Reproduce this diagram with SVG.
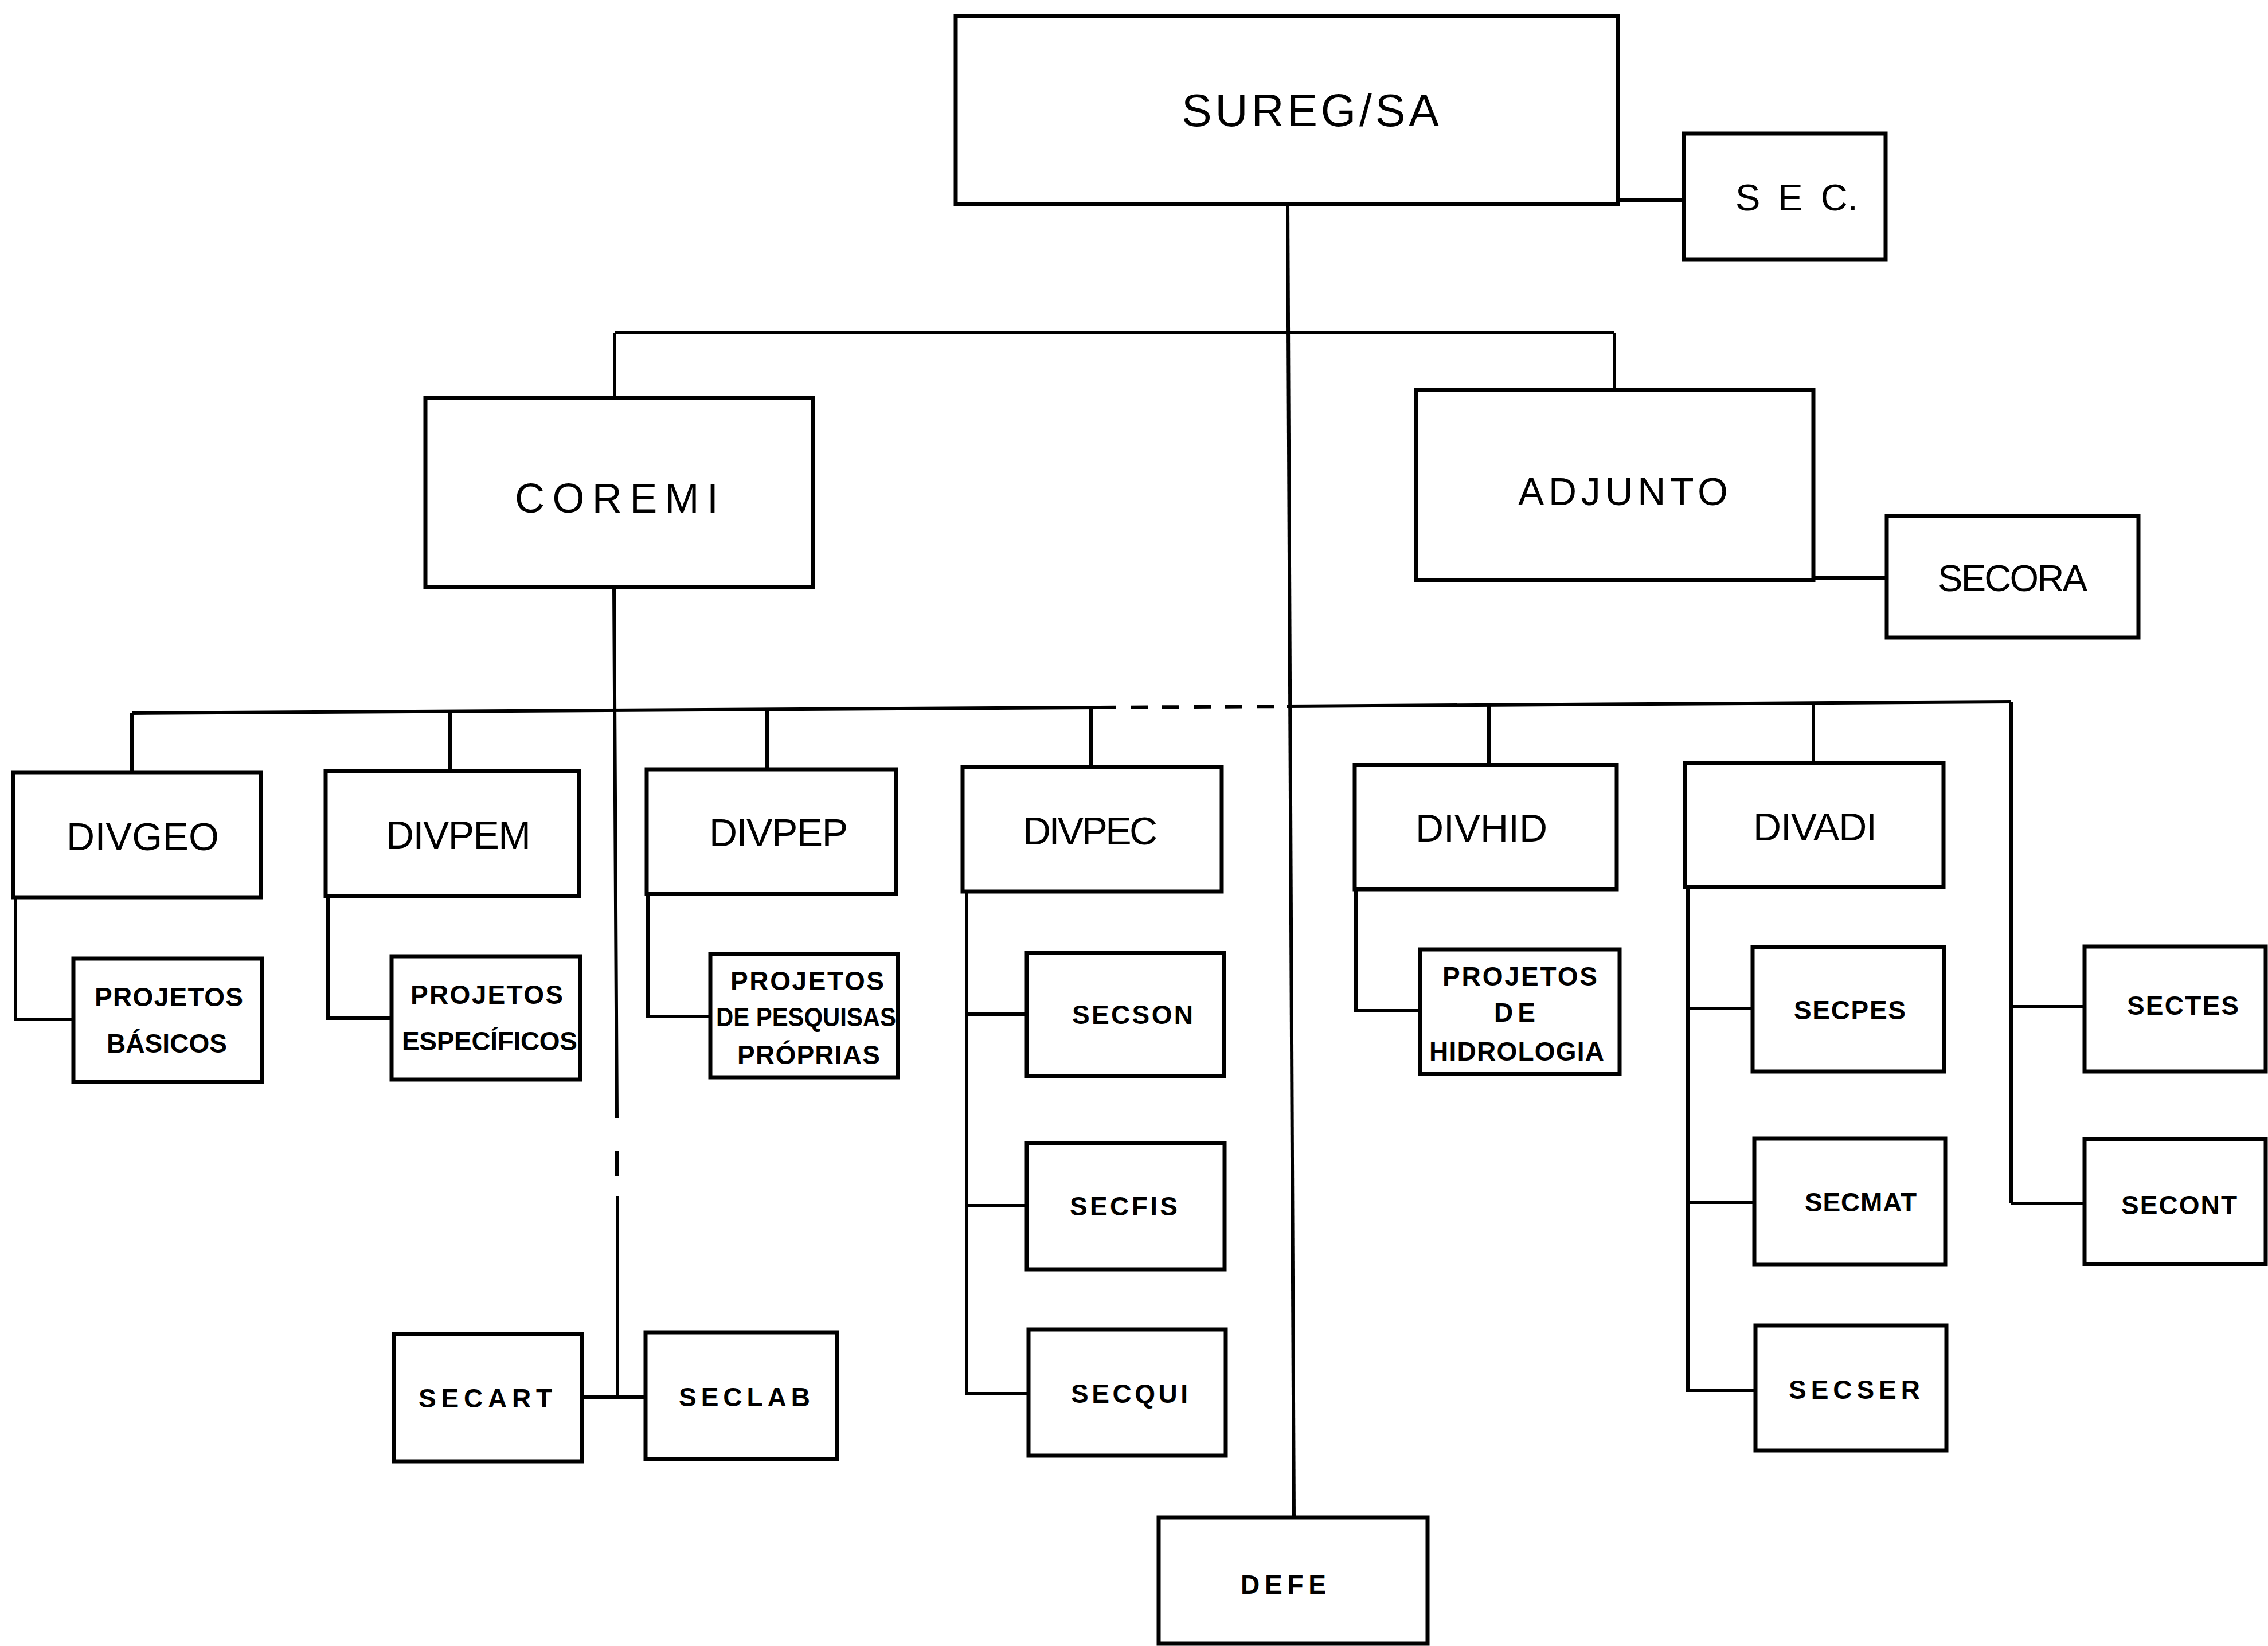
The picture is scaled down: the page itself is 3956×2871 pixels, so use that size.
<svg xmlns="http://www.w3.org/2000/svg" width="3956" height="2871" viewBox="0 0 3956 2871">
<style>
.box{fill:#fff;stroke:#000;stroke-width:7}
.ln{fill:none;stroke:#000;stroke-width:6}
.big{font-family:"Liberation Sans",Arial,sans-serif;font-weight:normal;fill:#000}
.sm{font-family:"Liberation Sans",Arial,sans-serif;font-weight:bold;fill:#000;font-size:46px}
</style>
<rect width="3956" height="2871" fill="#fff"/>
<g id="connectors">
<path class="ln" d="M2822 349 H2937"/>
<path class="ln" d="M2246 356 L2257 2647"/>
<path class="ln" d="M1072 580 H2816 M1072 580 V694 M2816 580 V680"/>
<path class="ln" d="M3163 1008 H3291"/>
<path class="ln" d="M1071 1024 L1076 1950 M1076 2007 V2052 M1077 2086 V2437 M1015 2437 H1126"/>
<path class="ln" d="M230 1244 L1917 1234"/>
<path class="ln" d="M1917 1234 L2245 1232" stroke-dasharray="30 25"/>
<path class="ln" d="M2245 1232 L3508 1224"/>
<path class="ln" d="M230 1244 V1347 M785 1241 V1345 M1338 1238 V1342 M1903 1234 V1338 M2597 1230 V1334 M3163 1227 V1331 M3508 1224 V2099"/>
<path class="ln" d="M27 1565 V1778 H128"/>
<path class="ln" d="M572 1563 V1776 H683"/>
<path class="ln" d="M1130 1559 V1773 H1239"/>
<path class="ln" d="M1686 1555 V2431 H1794 M1686 1769 H1791 M1686 2103 H1791"/>
<path class="ln" d="M2365 1551 V1763 H2477"/>
<path class="ln" d="M2944 1547 V2425 H3062 M2944 1759 H3057 M2944 2097 H3060"/>
<path class="ln" d="M3508 1756 H3636 M3508 2099 H3636"/>
</g>
<g id="sureg"><rect class="box" x="1667" y="28" width="1155" height="328"/><text class="big" x="2061" y="220" font-size="79" textLength="449">SUREG/SA</text></g>
<g id="sec"><rect class="box" x="2937" y="233" width="352" height="220"/><text class="big" x="3027" y="367" font-size="65"><tspan letter-spacing="31">SE</tspan>C.</text></g>
<g id="coremi"><rect class="box" x="742" y="694" width="676" height="330"/><text class="big" x="898" y="894" font-size="72" textLength="355">COREMI</text></g>
<g id="adjunto"><rect class="box" x="2470" y="680" width="693" height="332"/><text class="big" x="2648" y="881" font-size="68" textLength="366">ADJUNTO</text></g>
<g id="secora"><rect class="box" x="3291" y="900" width="439" height="212"/><text class="big" x="3380" y="1031" font-size="65" textLength="261">SECORA</text></g>
<g id="divgeo"><rect class="box" x="23" y="1347" width="432" height="218"/><text class="big" x="116" y="1483" font-size="68" textLength="266">DIVGEO</text></g>
<g id="divpem"><rect class="box" x="568" y="1345" width="442" height="218"/><text class="big" x="673" y="1480" font-size="68" textLength="253">DIVPEM</text></g>
<g id="divpep"><rect class="box" x="1128" y="1342" width="435" height="217"/><text class="big" x="1237" y="1476" font-size="68" textLength="242">DIVPEP</text></g>
<g id="divpec"><rect class="box" x="1679" y="1338" width="452" height="217"/><text class="big" x="1784" y="1473" font-size="68" textLength="235">DIVPEC</text></g>
<g id="divhid"><rect class="box" x="2363" y="1334" width="457" height="217"/><text class="big" x="2469" y="1468" font-size="68" textLength="230">DIVHID</text></g>
<g id="divadi"><rect class="box" x="2939" y="1331" width="451" height="216"/><text class="big" x="3058" y="1466" font-size="68" textLength="216">DIVADI</text></g>
<g id="proj-basicos"><rect class="box" x="128" y="1672" width="329" height="215"/><text class="sm" x="165" y="1755" textLength="259">PROJETOS</text><text class="sm" x="186" y="1836" textLength="210">BÁSICOS</text></g>
<g id="proj-especificos"><rect class="box" x="683" y="1668" width="329" height="215"/><text class="sm" x="716" y="1751" textLength="266">PROJETOS</text><text class="sm" x="701" y="1832" textLength="306">ESPECÍFICOS</text></g>
<g id="proj-pesquisas"><rect class="box" x="1239" y="1664" width="327" height="215"/><text class="sm" x="1274" y="1727" font-size="44" textLength="268">PROJETOS</text><text class="sm" x="1249" y="1790" font-size="42" textLength="314" lengthAdjust="spacingAndGlyphs">DE PESQUISAS</text><text class="sm" x="1286" y="1856" font-size="42" textLength="249">PRÓPRIAS</text></g>
<g id="proj-hidrologia"><rect class="box" x="2477" y="1656" width="348" height="217"/><text class="sm" x="2516" y="1719" font-size="44" textLength="270">PROJETOS</text><text class="sm" x="2606" y="1782" font-size="44" textLength="72">DE</text><text class="sm" x="2493" y="1850" font-size="44" textLength="305">HIDROLOGIA</text></g>
<g id="secson"><rect class="box" x="1791" y="1662" width="344" height="215"/><text class="sm" x="1870" y="1786" textLength="211">SECSON</text></g>
<g id="secfis"><rect class="box" x="1791" y="1994" width="345" height="220"/><text class="sm" x="1866" y="2120" textLength="188">SECFIS</text></g>
<g id="secqui"><rect class="box" x="1794" y="2319" width="344" height="220"/><text class="sm" x="1868" y="2447" textLength="204">SECQUI</text></g>
<g id="secpes"><rect class="box" x="3057" y="1652" width="334" height="217"/><text class="sm" x="3129" y="1778" textLength="195">SECPES</text></g>
<g id="secmat"><rect class="box" x="3060" y="1986" width="333" height="220"/><text class="sm" x="3148" y="2113" textLength="195">SECMAT</text></g>
<g id="secser"><rect class="box" x="3062" y="2312" width="333" height="218"/><text class="sm" x="3120" y="2440" textLength="229">SECSER</text></g>
<g id="sectes"><rect class="box" x="3636" y="1651" width="316" height="218"/><text class="sm" x="3710" y="1770" textLength="195">SECTES</text></g>
<g id="secont"><rect class="box" x="3636" y="1987" width="316" height="218"/><text class="sm" x="3700" y="2118" textLength="202">SECONT</text></g>
<g id="secart"><rect class="box" x="687" y="2327" width="328" height="222"/><text class="sm" x="730" y="2455" textLength="233">SECART</text></g>
<g id="seclab"><rect class="box" x="1126" y="2324" width="334" height="221"/><text class="sm" x="1184" y="2453" textLength="229">SECLAB</text></g>
<g id="defe"><rect class="box" x="2021" y="2647" width="469" height="220"/><text class="sm" x="2164" y="2780" textLength="149">DEFE</text></g>
</svg>
